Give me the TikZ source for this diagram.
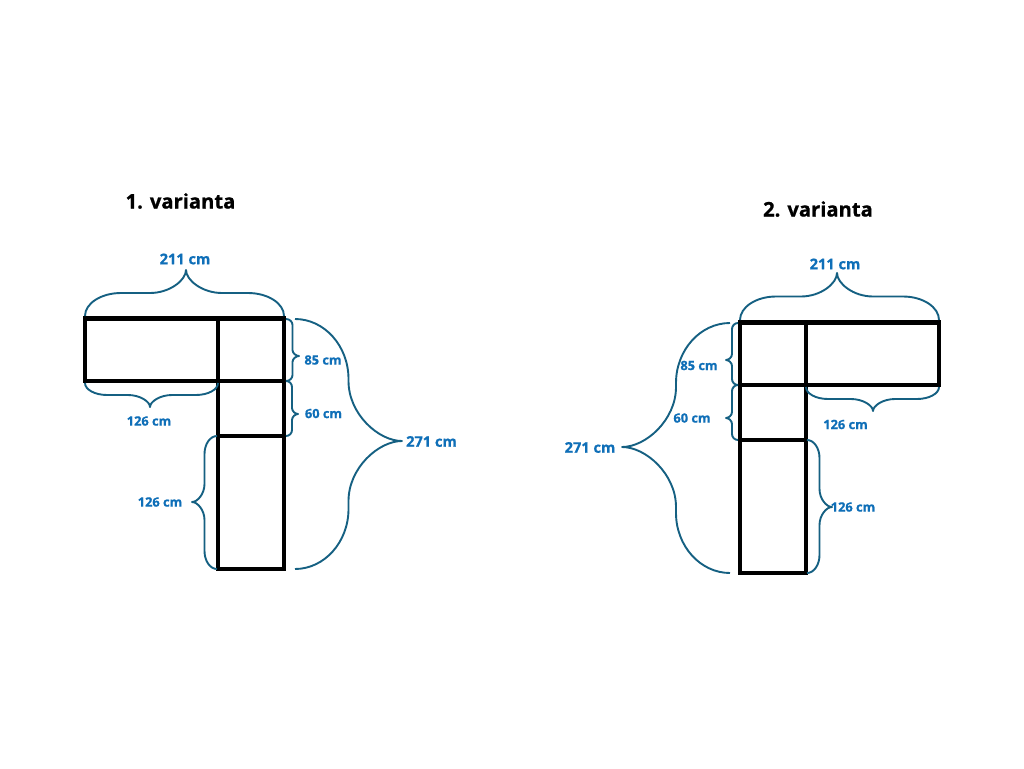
\documentclass[tikz,border=0pt]{standalone}
\usepackage{fontspec}
\setmainfont[BoldFeatures={FakeBold=0.8}]{Open Sans}
\definecolor{bracecol}{HTML}{156082}
\definecolor{labelcol}{HTML}{0F6FB8}
\tikzset{
  frame/.style={draw=black,line width=4.3pt,line join=miter},
  bracepath/.style={draw=bracecol,line width=1.9pt,line join=round},
  title/.style={font=\fontsize{20.2}{24}\selectfont\bfseries,text=black,inner sep=0pt},
  biglabel/.style={font=\fontsize{14.6}{17}\selectfont\bfseries,text=labelcol,inner sep=0pt},
  smalllabel/.style={font=\fontsize{12.8}{14}\selectfont\bfseries,text=labelcol,inner sep=0pt},
  hup/.style={x={(1pt,0pt)},y={(0pt,1pt)}},
  hdown/.style={x={(1pt,0pt)},y={(0pt,-1pt)}},
  vright/.style={x={(0pt,-1pt)},y={(1pt,0pt)}},
  vleft/.style={x={(0pt,-1pt)},y={(-1pt,0pt)}}
}
% #1 start coordinate, #2 direction style, #3 length, #4 apex position, #5 depth, #6 shoulder length
\newcommand{\curlybrace}[6]{%
  \begin{scope}[shift={(#1)},#2]
    \pgfmathsetmacro{\hd}{#5/2}
    \pgfmathsetmacro{\qd}{#5*0.78}
    \pgfmathsetmacro{\cs}{\hd*0.55}
    \pgfmathsetmacro{\ra}{#6*0.45}
    \pgfmathsetmacro{\la}{#4-#6}
    \pgfmathsetmacro{\lb}{#4-#6*0.45}
    \pgfmathsetmacro{\rb}{#4+#6*0.45}
    \pgfmathsetmacro{\rc}{#4+#6}
    \pgfmathsetmacro{\rd}{#3-#6}
    \pgfmathsetmacro{\re}{#3-#6*0.45}
    \draw[bracepath] (0,0) .. controls (0,\cs) and (\ra,\hd) .. (#6,\hd)
      -- (\la,\hd) .. controls (\lb,\hd) and (#4,\qd) .. (#4,#5)
      .. controls (#4,\qd) and (\rb,\hd) .. (\rc,\hd)
      -- (\rd,\hd) .. controls (\re,\hd) and (#3,\cs) .. (#3,0);
  \end{scope}}
\begin{document}
\begin{tikzpicture}[x=1pt,y=-1pt]
\useasboundingbox (0,0) rectangle (1024,768);
\fill[white] (0,0) rectangle (1024,768);

% variant 1
\node[title] (t1) at (180.5,201) {1. varianta};
\coordinate (a1) at (85,318.5);
\coordinate (a2) at (218,318.5);
\coordinate (a3) at (284,318.5);
\coordinate (a4) at (85,381);
\coordinate (a5) at (218,381);
\coordinate (a6) at (284,381);
\coordinate (a7) at (218,436);
\coordinate (a8) at (284,436);
\coordinate (a9) at (218,569);
\coordinate (a10) at (284,569);
\draw[frame] (a1) rectangle (a5);
\draw[frame] (a2) rectangle (a6);
\draw[frame] (a5) rectangle (a8);
\draw[frame] (a7) rectangle (a10);

\coordinate (b1) at (85,316);
\coordinate (b2) at (85,383);
\coordinate (b3) at (286,319);
\coordinate (b4) at (286,381);
\coordinate (b5) at (217,436);
\coordinate (b6) at (295,319);
\curlybrace{b1}{hup}{199}{101}{46}{36}
\curlybrace{b2}{hdown}{133}{65}{24}{22}
\curlybrace{b3}{vright}{62}{37}{13}{6}
\curlybrace{b4}{vright}{55}{33}{12}{6}
\curlybrace{b5}{vleft}{133}{66}{25}{18}
\curlybrace{b6}{vright}{250}{122}{107}{60}

\node[biglabel] (l1) at (185,259) {211 cm};
\node[smalllabel] (l2) at (149,421) {126 cm};
\node[smalllabel] (l3) at (323,360) {85 cm};
\node[smalllabel] (l4) at (323.5,413.5) {60 cm};
\node[biglabel] (l5) at (431.5,441.5) {271 cm};
\node[smalllabel] (l6) at (160,502) {126 cm};

% variant 2
\node[title] (t2) at (818,209) {2. varianta};
\coordinate (c1) at (740,322.5);
\coordinate (c2) at (806,322.5);
\coordinate (c3) at (939,322.5);
\coordinate (c4) at (740,385);
\coordinate (c5) at (806,385);
\coordinate (c6) at (939,385);
\coordinate (c7) at (740,440);
\coordinate (c8) at (806,440);
\coordinate (c9) at (740,573);
\coordinate (c10) at (806,573);
\draw[frame] (c1) rectangle (c5);
\draw[frame] (c2) rectangle (c6);
\draw[frame] (c4) rectangle (c8);
\draw[frame] (c7) rectangle (c10);

\coordinate (d1) at (740,320);
\coordinate (d2) at (806,387);
\coordinate (d3) at (738,323);
\coordinate (d4) at (738,385);
\coordinate (d5) at (807,440);
\coordinate (d6) at (730,323);
\curlybrace{d1}{hup}{199}{97}{47}{36}
\curlybrace{d2}{hdown}{133}{67}{24}{22}
\curlybrace{d3}{vleft}{62}{37}{12}{6}
\curlybrace{d4}{vleft}{55}{33}{12}{6}
\curlybrace{d5}{vright}{133}{67}{25}{18}
\curlybrace{d6}{vleft}{250}{124}{108}{60}

\node[biglabel] (m1) at (835,264) {211 cm};
\node[smalllabel] (m2) at (845.5,424.5) {126 cm};
\node[smalllabel] (m3) at (699,365.5) {85 cm};
\node[smalllabel] (m4) at (692,418) {60 cm};
\node[biglabel] (m5) at (590,447.5) {271 cm};
\node[smalllabel] (m6) at (853,507) {126 cm};
\end{tikzpicture}
\end{document}
